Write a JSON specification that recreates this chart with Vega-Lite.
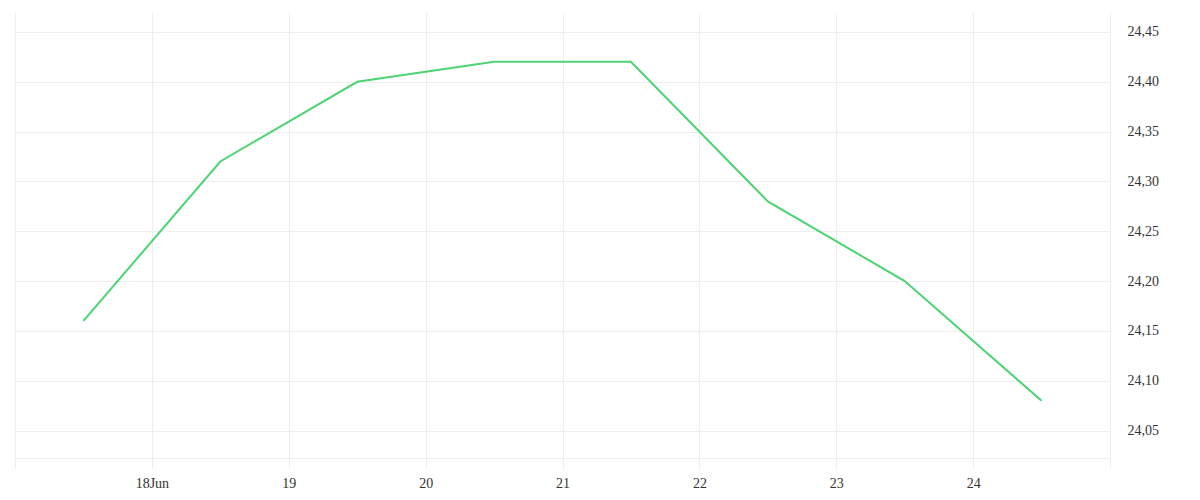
{
  "$schema": "https://vega.github.io/schema/vega-lite/v6.json",
  "autosize": "none",
  "width": 1095,
  "height": 446,
  "padding": {"left": 15, "top": 12, "right": 90, "bottom": 42},
  "background": "#ffffff",
  "config": {
    "view": {"stroke": null},
    "axis": {"labelFont": "Liberation Serif", "labelFontSize": 14, "labelColor": "#333333", "gridColor": "#eeeeee", "gridWidth": 1}
  },
  "data": {
    "values": [
      {"time": "2024-06-17T12:00:00", "value": 24.16},
      {"time": "2024-06-18T12:00:00", "value": 24.32},
      {"time": "2024-06-19T12:00:00", "value": 24.40},
      {"time": "2024-06-20T12:00:00", "value": 24.42},
      {"time": "2024-06-21T12:00:00", "value": 24.42},
      {"time": "2024-06-22T12:00:00", "value": 24.28},
      {"time": "2024-06-23T12:00:00", "value": 24.20},
      {"time": "2024-06-24T12:00:00", "value": 24.08}
    ]
  },
  "mark": {"type": "line", "color": "#4cd473", "strokeWidth": 2, "clip": false},
  "encoding": {
    "x": {
      "field": "time",
      "type": "temporal",
      "scale": {"domain": [{"year": 2024, "month": 6, "date": 17}, {"year": 2024, "month": 6, "date": 25}]},
      "axis": {
        "title": null,
        "values": [
          {"year": 2024, "month": 6, "date": 17},
          {"year": 2024, "month": 6, "date": 18},
          {"year": 2024, "month": 6, "date": 19},
          {"year": 2024, "month": 6, "date": 20},
          {"year": 2024, "month": 6, "date": 21},
          {"year": 2024, "month": 6, "date": 22},
          {"year": 2024, "month": 6, "date": 23},
          {"year": 2024, "month": 6, "date": 24},
          {"year": 2024, "month": 6, "date": 25}
        ],
        "labelExpr": "date(datum.value) == 18 ? '18Jun' : ((date(datum.value) == 17 || date(datum.value) == 25) ? '' : '' + date(datum.value))",
        "grid": true,
        "tickColor": "#eeeeee",
        "tickSize": 10,
        "domainColor": "#eeeeee",
        "labelPadding": 8,
        "labelFlush": false,
        "labelOverlap": false
      }
    },
    "y": {
      "field": "value",
      "type": "quantitative",
      "scale": {"domain": [24.0225, 24.47], "zero": false, "nice": false},
      "axis": {
        "title": null,
        "orient": "right",
        "values": [24.05, 24.1, 24.15, 24.2, 24.25, 24.3, 24.35, 24.4, 24.45],
        "labelExpr": "replace(format(datum.value, '.2f'), '.', ',')",
        "grid": true,
        "ticks": false,
        "domain": false,
        "labelPadding": 17
      }
    }
  }
}
